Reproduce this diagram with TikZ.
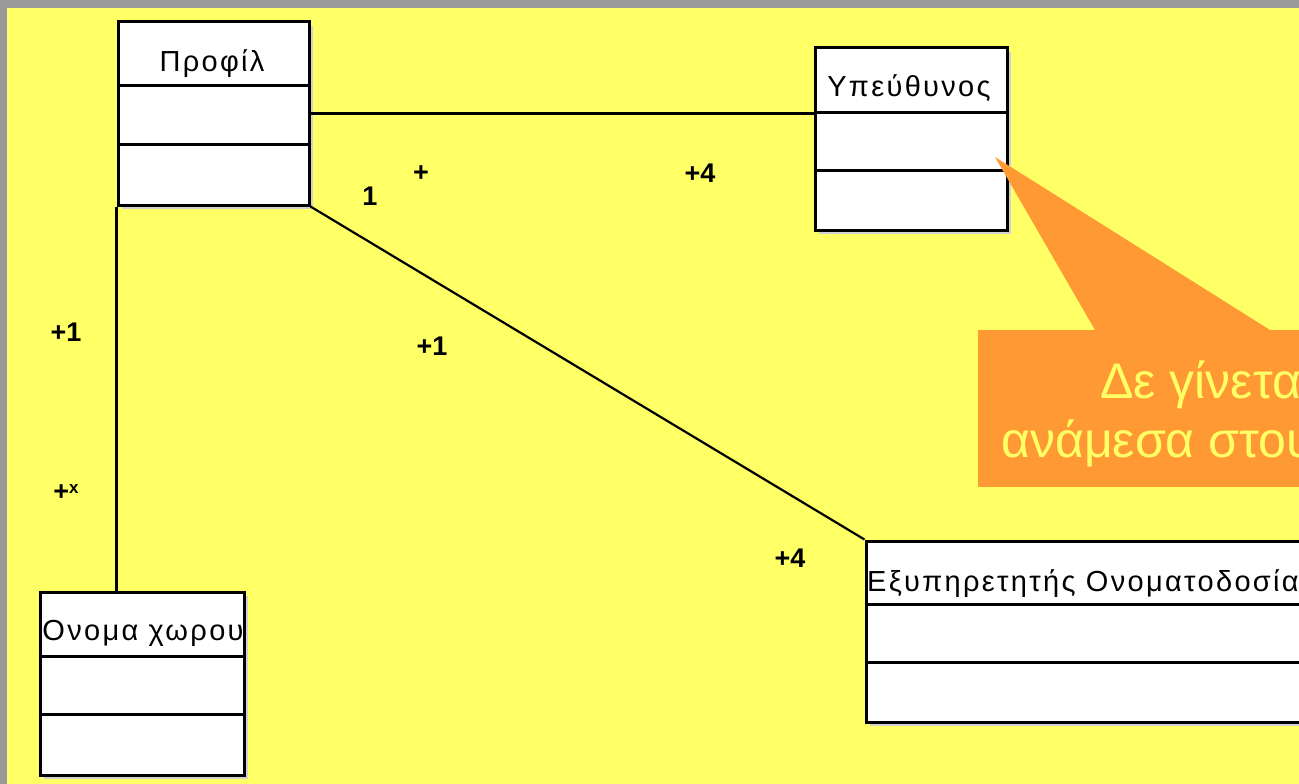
\documentclass[tikz,border=0pt]{standalone}
\usepackage{fontspec}
\setmainfont{Liberation Sans}
\usetikzlibrary{shadows}
\definecolor{bggray}{HTML}{9A9A9A}
\definecolor{bgyellow}{HTML}{FFFF66}
\definecolor{callout}{HTML}{FF9933}
\definecolor{callouttext}{HTML}{FFFF66}
\tikzset{
  umlbox/.style={draw=black, line width=3pt, fill=white, inner sep=0pt,
    drop shadow={shadow xshift=4pt, shadow yshift=-4pt, fill=black!18, opacity=1}},
  divider/.style={draw=black, line width=2.8pt},
  conn/.style={draw=black, line width=2.2pt},
  boxtitle/.style={font=\fontsize{29}{32}\selectfont\addfontfeature{LetterSpace=8}, inner sep=0pt, anchor=base},
  mult/.style={font=\fontsize{27}{30}\selectfont\bfseries, inner sep=0pt, anchor=base},
  calltext/.style={font=\fontsize{50}{56}\selectfont, text=callouttext, inner sep=0pt, anchor=base west}
}
\begin{document}
\begin{tikzpicture}[x=1pt,y=-1pt]
\fill[bggray] (0,0) rectangle (1299,784);
\useasboundingbox (0,0) rectangle (1299,784);
\clip (0,0) rectangle (1299,784);
\fill[bgyellow] (7,8) rectangle (1299,784);

% class boxes
\node[umlbox, minimum width=191pt, minimum height=183pt] (prof) at (213.5,113.5) {};
\node[umlbox, minimum width=192pt, minimum height=182pt] (ypeu) at (911,139) {};
\node[umlbox, minimum width=204pt, minimum height=183pt] (onoma) at (142,683.5) {};
\node[umlbox, minimum width=480pt, minimum height=181pt] (exyp) at (1106,631.5) {};

% dividers
\draw[divider] ([yshift=-65pt]prof.north west) -- ([yshift=-65pt]prof.north east);
\draw[divider] ([yshift=-124pt]prof.north west) -- ([yshift=-124pt]prof.north east);
\draw[divider] ([yshift=-66pt]ypeu.north west) -- ([yshift=-66pt]ypeu.north east);
\draw[divider] ([yshift=-124pt]ypeu.north west) -- ([yshift=-124pt]ypeu.north east);
\draw[divider] ([yshift=-66pt]onoma.north west) -- ([yshift=-66pt]onoma.north east);
\draw[divider] ([yshift=-124pt]onoma.north west) -- ([yshift=-124pt]onoma.north east);
\draw[divider] ([yshift=-65pt]exyp.north west) -- ([yshift=-65pt]exyp.north east);
\draw[divider] ([yshift=-123pt]exyp.north west) -- ([yshift=-123pt]exyp.north east);

% titles
\node[boxtitle] (tprof) at (212,71) {Προφίλ};
\node[boxtitle] (typeu) at (909,96) {Υπεύθυνος};
\node[boxtitle] (tonoma) at (143,640) {Ονομα χωρου};
\node[boxtitle, anchor=base west] (texyp) at (867,591) {Εξυπηρετητής Ονοματοδοσίας};

% connectors
\draw[conn] (prof.east) -- (prof.east -| ypeu.west);
\draw[conn] (prof.south west) -- (prof.south west |- onoma.north);
\draw[conn] (prof.south east) -- (exyp.north west);

% multiplicities
\node[mult] (m1) at (370,205) {1};
\node[mult] (m2) at (421,181) {+};
\node[mult] (m3) at (700,182) {+4};
\node[mult] (m4) at (66,341) {+1};
\node[mult] (m5) at (66,500) {+\raisebox{7pt}{\fontsize{17}{17}\selectfont x}};
\node[mult] (m6) at (432,355) {+1};
\node[mult] (m7) at (790,567) {+4};

% callout
\coordinate (tip) at (995,157);
\fill[callout] (tip) -- (1270,330) -- (1095,330) -- cycle;
\node[fill=callout, minimum width=400pt, minimum height=157pt, inner sep=0pt, anchor=north west] (note) at (978,330) {};
\node[calltext] (n1) at (1100,398) {Δε γίνεται};
\node[calltext] (n2) at (1001,457) {ανάμεσα στους};
\end{tikzpicture}
\end{document}
